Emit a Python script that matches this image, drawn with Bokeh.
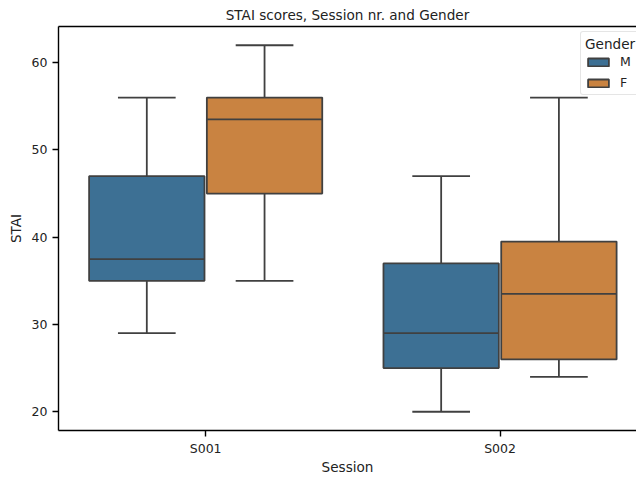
import numpy as np
from bokeh.plotting import figure
from bokeh.models import FixedTicker, LinearAxis, Range1d
from bokeh.embed import file_html
from bokeh.resources import INLINE

# ---- data ----
sessions = ["S001", "S002"]
genders = ["M", "F"]
colors = ["#3d7094", "#c98341"]

# per gender, per session
whisker_low = {"M": [29, 20], "F": [35, 24]}
q1 = {"M": [35, 25], "F": [45, 26]}
median = {"M": [37.5, 29], "F": [53.5, 33.5]}
q3 = {"M": [47, 37], "F": [56, 39.5]}
whisker_high = {"M": [56, 47], "F": [62, 56]}

y_ticks = [20, 30, 40, 50, 60]

FONT = "DejaVu Sans"
TXT = "#222222"
EDGE = "#404040"

p = figure(width=636, height=477, output_backend="svg", toolbar_location=None,
           x_range=Range1d(-0.5, 1.4636), y_range=Range1d(17.85, 64.15),
           min_border_left=58, min_border_right=0, min_border_top=26, min_border_bottom=47)
p.outline_line_color = None
p.grid.visible = False
p.background_fill_color = "white"
p.border_fill_color = "white"

p.title.text = "STAI scores, Session nr. and Gender"
p.title.align = "center"
p.title.offset = 5
p.title.standoff = 7
p.title.text_font = FONT
p.title.text_font_size = "13.6px"
p.title.text_font_style = "normal"
p.title.text_color = TXT

hue_offsets = {"M": -0.2, "F": 0.2}
box_w = 0.392
cap_half = 0.098

for g, c in zip(genders, colors):
    x = np.arange(len(sessions)) + hue_offsets[g]
    lo = np.array(whisker_low[g]); hi = np.array(whisker_high[g])
    a = np.array(q1[g]); b = np.array(q3[g]); m = np.array(median[g])
    p.segment(x0=x, y0=lo, x1=x, y1=a, line_color=EDGE, line_width=1.8)
    p.segment(x0=x, y0=b, x1=x, y1=hi, line_color=EDGE, line_width=1.8)
    p.segment(x0=x - cap_half, y0=lo, x1=x + cap_half, y1=lo, line_color=EDGE, line_width=1.8)
    p.segment(x0=x - cap_half, y0=hi, x1=x + cap_half, y1=hi, line_color=EDGE, line_width=1.8)
    p.vbar(x=x, width=box_w, bottom=a, top=b, fill_color=c, line_color=EDGE,
           line_width=1.8, legend_label=g)
    p.segment(x0=x - box_w / 2, y0=m, x1=x + box_w / 2, y1=m, line_color=EDGE, line_width=1.8)

# axes
p.xaxis.ticker = FixedTicker(ticks=list(range(len(sessions))))
p.xaxis.major_label_overrides = {i: s for i, s in enumerate(sessions)}
p.yaxis.ticker = FixedTicker(ticks=y_ticks)
p.xaxis.axis_label = "Session"
p.yaxis.axis_label = "STAI"
for ax in (p.xaxis[0], p.yaxis[0]):
    ax.axis_line_width = 1.4
    ax.axis_line_color = "black"
    ax.major_tick_line_width = 1.4
    ax.major_tick_line_color = "black"
    ax.major_tick_in = 0
    ax.major_tick_out = 6
    ax.minor_tick_line_color = None
    ax.major_label_text_font = FONT
    ax.major_label_text_font_size = "12.5px"
    ax.major_label_text_color = TXT
    ax.axis_label_text_font = FONT
    ax.axis_label_text_font_size = "13.6px"
    ax.axis_label_text_font_style = "normal"
    ax.axis_label_text_color = TXT
p.xaxis.major_label_standoff = 4
p.xaxis.axis_label_standoff = 0
p.yaxis.major_label_standoff = 5
p.yaxis.axis_label_standoff = 5

top = LinearAxis(ticker=FixedTicker(ticks=[]), axis_line_width=1.4, axis_line_color="black",
                 major_tick_out=0, major_tick_in=0, minor_tick_out=0, minor_tick_in=0,
                 major_label_standoff=0, major_label_text_font_size="0px")
p.add_layout(top, "above")

lg = p.legend[0]
lg.title = "Gender"
lg.title_text_font = FONT
lg.title_text_font_size = "13.6px"
lg.title_text_font_style = "normal"
lg.title_text_color = TXT
lg.label_text_font = FONT
lg.label_text_font_size = "12.5px"
lg.label_text_color = TXT
lg.glyph_width = 26
lg.glyph_height = 10
lg.label_standoff = 9
lg.spacing = 6
lg.padding = 4
lg.margin = 0
lg.title_standoff = 2
lg.border_line_color = "#cccccc"
lg.border_line_width = 1
lg.border_radius = 3
lg.background_fill_alpha = 0.85
lg.location = (522, 335)

open("out.html", "w").write(file_html(p, INLINE))
